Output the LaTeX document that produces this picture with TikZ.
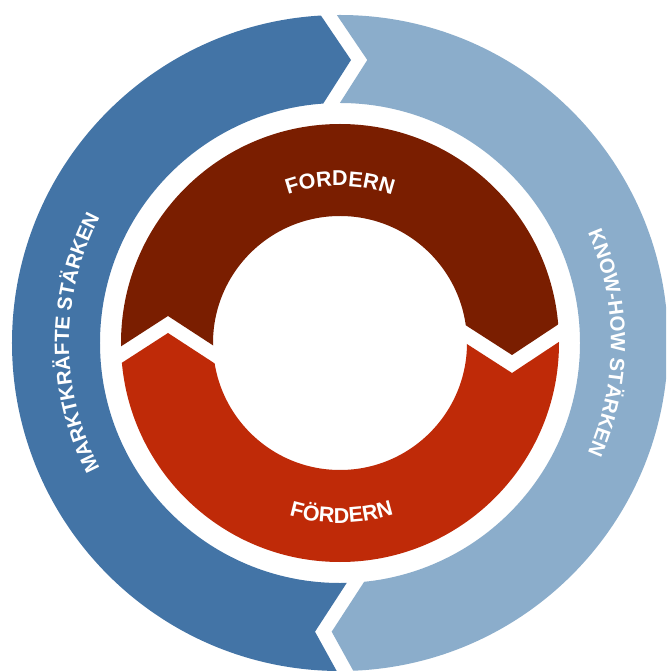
\documentclass[tikz,border=0pt]{standalone}
\usepackage{fontspec}
\setmainfont{Liberation Sans}
\usetikzlibrary{decorations.text}

\definecolor{marketblue}{HTML}{4374A6}
\definecolor{knowblue}{HTML}{8BADCB}
\definecolor{fordernred}{HTML}{7A1E00}
\definecolor{foerdernred}{HTML}{BF2A08}

\begin{document}
\begin{tikzpicture}[x=1pt,y=1pt,
  innerlabel/.style={decorate, decoration={text along path,
      text align=center,
      text={|\color{white}\bfseries\fontsize{21.5}{21.5}\selectfont|#1}}},
  outerlabel/.style={decorate, decoration={text along path,
      text align=center,
      text={|\color{white}\bfseries\fontsize{20.5}{20.5}\selectfont|#1}}}]

  % canvas, origin at the common centre of both rings
  \clip (-340,-328) rectangle (326,343);
  \fill[white] (-340,-328) rectangle (326,343);

  % outer ring, left half: arrow head at the top, notch at the bottom
  \begin{scope}
    \clip (-33,348) -- (11,283) -- (-33,214) -- (0,0) -- (22.5,-215.7)
          -- (-25,-288.7) -- (18.4,-367.3) -- (-400,-400) -- (-400,400) -- cycle;
    \fill[marketblue, even odd rule] (0,0) circle[radius=328pt] (0,0) circle[radius=240pt];
  \end{scope}

  % outer ring, right half: notch at the top, arrow head at the bottom
  \begin{scope}
    \clip (-16.7,348) -- (27.3,283) -- (-16.7,214) -- (0,0) -- (39.2,-215.7)
          -- (-8.3,-288.7) -- (35.1,-367.3) -- (400,-400) -- (400,400) -- cycle;
    \fill[knowblue, even odd rule] (0,0) circle[radius=328pt] (0,0) circle[radius=240pt];
  \end{scope}

  % inner ring, upper half
  \begin{scope}
    \clip (-244,-19.5) -- (-172,27) -- (-103,-18) -- (102,33) -- (172,-12)
          -- (244.5,36) -- (300,300) -- (-300,300) -- cycle;
    \fill[fordernred, even odd rule] (0,0) circle[radius=219pt] (0,0) circle[radius=127pt];
  \end{scope}

  % inner ring, lower half
  \begin{scope}
    \clip (-244,-36.5) -- (-172,10) -- (-103,-35) -- (102,15) -- (172,-30)
          -- (244.5,18) -- (300,-300) -- (-300,-300) -- cycle;
    \fill[foerdernred, even odd rule] (0,0) circle[radius=219pt] (0,0) circle[radius=127pt];
  \end{scope}

  % curved labels
  \path[innerlabel=FORDERN] (110:157pt) arc[start angle=110, end angle=70, radius=157pt];
  \path[innerlabel=FÖRDERN] (250.5:180pt) arc[start angle=250.5, end angle=290.5, radius=180pt];
  \path[outerlabel=MARKTKRÄFTE STÄRKEN] (210:271pt) arc[start angle=210, end angle=150, radius=271pt];
  \path[outerlabel=KNOW-HOW STÄRKEN] (27:271pt) arc[start angle=27, end angle=-27, radius=271pt];
\end{tikzpicture}
\end{document}
